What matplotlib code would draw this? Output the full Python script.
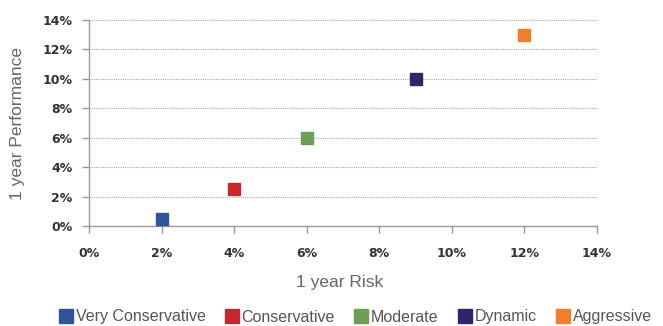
import matplotlib
matplotlib.use("Agg")
import matplotlib.pyplot as plt
from matplotlib.ticker import FuncFormatter
from matplotlib.lines import Line2D

categories = ["Very Conservative", "Conservative", "Moderate", "Dynamic", "Aggressive"]
risk = [2, 4, 6, 9, 12]
performance = [0.5, 2.5, 6, 10, 13]
colors = ["#2F5597", "#C8262E", "#6E9E57", "#2E2667", "#F07F2C"]
ticks = [0, 2, 4, 6, 8, 10, 12, 14]

fig = plt.figure(figsize=(6.63, 3.26), dpi=100)
ax = fig.add_axes([89/663, 1-226/326, (597-89)/663, (226-20)/326])

for c, x, y, col in zip(categories, risk, performance, colors):
    ax.plot([x], [y], marker="s", markersize=8.5, color=col, linestyle="none", zorder=3)

ax.set_xlim(0, 14)
ax.set_ylim(0, 14)
ax.set_xticks(ticks)
ax.set_yticks(ticks)
fmt = FuncFormatter(lambda v, p: f"{int(v)}%")
ax.xaxis.set_major_formatter(fmt)
ax.yaxis.set_major_formatter(fmt)
ax.grid(axis="y", linestyle=(0, (1, 1)), color="#AAAAAA", linewidth=0.8)
ax.set_axisbelow(True)
for s in ["top", "right"]:
    ax.spines[s].set_visible(False)
for s in ["left", "bottom"]:
    ax.spines[s].set_color("#999999")
    ax.spines[s].set_linewidth(1.0)
ax.tick_params(axis="both", colors="#999999", length=5, width=1, labelcolor="#333333", labelsize=9)
ax.tick_params(axis="x", pad=10)
ax.tick_params(axis="y", pad=7)
for lab in ax.get_xticklabels() + ax.get_yticklabels():
    lab.set_fontweight("bold")

fig.text(340/663, 1-283/326, "1 year Risk", ha="center", va="center", fontsize=12.5,
         color="#666666", family="Liberation Sans")
fig.text(18/663, 1-123/326, "1 year Performance", ha="center", va="center", rotation=90,
         fontsize=12.5, color="#666666", family="Liberation Sans")

handles = [Line2D([0], [0], marker="s", color=col, linestyle="none", markersize=10) for col in colors]
leg = fig.legend(handles, categories, loc="center", bbox_to_anchor=(355/663, 1-317/326), ncol=5,
                 frameon=False, prop={"family": "Liberation Sans", "size": 11.5},
                 handletextpad=0.1, columnspacing=1.15, handlelength=1.0)
for t in leg.get_texts():
    t.set_color("#555555")

fig.savefig("out.png", dpi=100)
